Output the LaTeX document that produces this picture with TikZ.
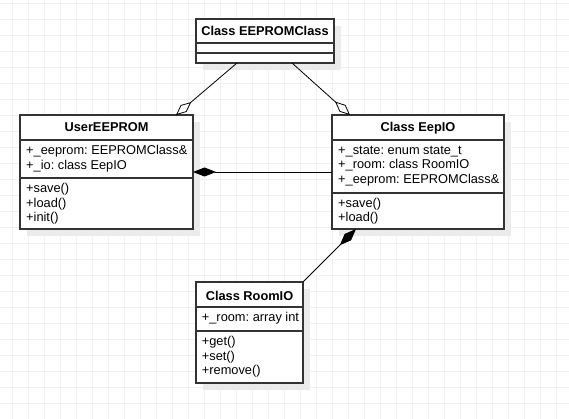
\documentclass[tikz,border=0pt]{standalone}
\usepackage{fontspec}
\setmainfont{Liberation Sans}
\usetikzlibrary{arrows.meta,calc,shadows}
\definecolor{gridc}{HTML}{F0F0F0}
\definecolor{boxc}{HTML}{333333}
\definecolor{shadc}{HTML}{EBEBEB}
\frenchspacing
\tikzset{
 classbox/.style={draw=boxc, line width=1.2pt, fill=white, inner sep=0pt, outer sep=0pt, anchor=north west,
   general shadow={fill=shadc, shadow xshift=7pt, shadow yshift=-7pt}},
 sepline/.style={draw=boxc, line width=1.2pt},
 txt/.style={inner sep=0pt, anchor=base west, font=\fontsize{12.8}{14.4}\selectfont\frenchspacing},
 head/.style={inner sep=0pt, anchor=base, font=\fontsize{12.8}{14.4}\selectfont\bfseries},
 agg/.style={draw=black, line width=0.8pt, -{Diamond[open, length=20pt, width=9pt, line width=0.8pt]}},
 comp/.style={draw=black, line width=0.8pt, -{Diamond[length=23pt, width=9pt]}},
 gridline/.style={draw=gridc, line width=1pt}
}
\begin{document}
\begin{tikzpicture}[x=1pt, y=-1pt]
\useasboundingbox (0,0) rectangle (569,419);
\fill[white] (0,0) rectangle (569,419);
\begin{scope}
\clip (0,0) rectangle (569,419);
\foreach \i in {0,...,35} \draw[gridline] (12.3+16*\i,0) -- (12.3+16*\i,419);
\foreach \i in {0,...,26} \draw[gridline] (0,3.3+16*\i) -- (569,3.3+16*\i);
\end{scope}

% boxes
\node[classbox, minimum width=138pt, minimum height=44pt] (eeprom) at (196,19) {};
\node[classbox, minimum width=173pt, minimum height=114pt] (user) at (20,115) {};
\node[classbox, minimum width=172pt, minimum height=114pt] (eepio) at (332,115) {};
\node[classbox, minimum width=107pt, minimum height=101pt] (room) at (196,282) {};

% separators
\draw[sepline] ($(eeprom.north west)+(0,24)$) -- ($(eeprom.north east)+(0,24)$);
\draw[sepline] ($(eeprom.north west)+(0,34)$) -- ($(eeprom.north east)+(0,34)$);
\draw[sepline] ($(user.north west)+(0,25)$) -- ($(user.north east)+(0,25)$);
\draw[sepline] ($(user.north west)+(0,63)$) -- ($(user.north east)+(0,63)$);
\draw[sepline] ($(eepio.north west)+(0,25)$) -- ($(eepio.north east)+(0,25)$);
\draw[sepline] ($(eepio.north west)+(0,78)$) -- ($(eepio.north east)+(0,78)$);
\draw[sepline] ($(room.north west)+(0,25)$) -- ($(room.north east)+(0,25)$);
\draw[sepline] ($(room.north west)+(0,49)$) -- ($(room.north east)+(0,49)$);

% texts
\node[head] (eepromh) at (265,36) {Class EEPROMClass};

\node[head] (userh) at (106.5,131.7) {UserEEPROM};
\node[txt] (usera1) at (26,155) {+\_eeprom: EEPROMClass\&};
\node[txt] (usera2) at (26,169.4) {+\_io: class EepIO};
\node[txt] (userm1) at (26,192.7) {+save()};
\node[txt] (userm2) at (26,207.1) {+load()};
\node[txt] (userm3) at (26,221.5) {+init()};

\node[head] (eepioh) at (418,131.7) {Class EepIO};
\node[txt] (eepioa1) at (338,154.5) {+\_state: enum state\_t};
\node[txt] (eepioa2) at (338,169) {+\_room: class RoomIO};
\node[txt] (eepioa3) at (338,183.5) {+\_eeprom: EEPROMClass\&};
\node[txt] (eepiom1) at (338,207.5) {+save()};
\node[txt] (eepiom2) at (338,222) {+load()};

\node[head] (roomh) at (249.5,300.7) {Class RoomIO};
\node[txt] (rooma1) at (201.7,321.7) {+\_room: array int};
\node[txt] (roomm1) at (201.7,345.8) {+get()};
\node[txt] (roomm2) at (201.7,360.2) {+set()};
\node[txt] (roomm3) at (201.7,374.6) {+remove()};

% connectors
\draw[agg] ($(eeprom.south west)+(41,0)$) -- ($(user.north west)+(156,0)$);
\draw[agg] ($(eeprom.south west)+(96,0)$) -- ($(eepio.north west)+(18,0)$);
\draw[comp] ($(eepio.north west)+(0,57)$) -- ($(user.north east)+(0,57)$);
\draw[comp] (room.north east) -- ($(eepio.south west)+(24,0)$);
\end{tikzpicture}
\end{document}
